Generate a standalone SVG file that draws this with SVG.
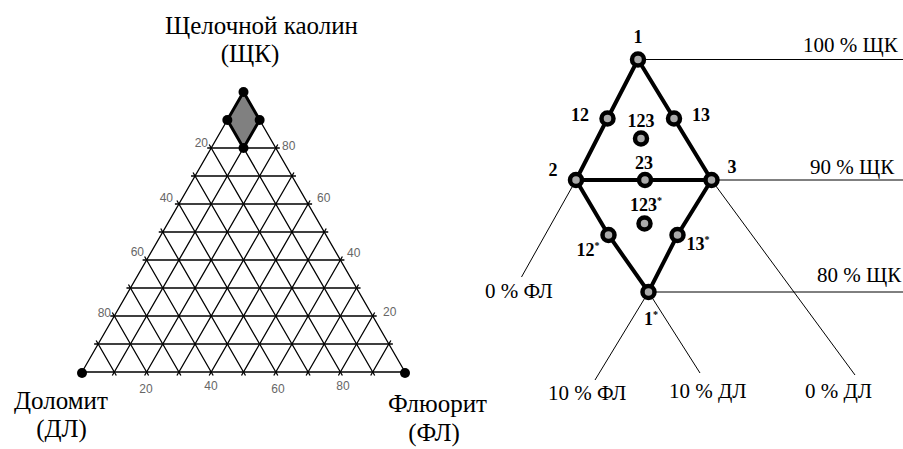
<svg xmlns="http://www.w3.org/2000/svg" width="903" height="449" viewBox="0 0 903 449">
<style>
.grid{stroke:#000;stroke-width:1.3;fill:none}
.title{font-family:"Liberation Serif",serif;font-size:25px;fill:#000}
.tick{font-family:"Liberation Sans",Arial,sans-serif;font-size:12px;fill:#666}
.thick{stroke:#000;stroke-width:4;fill:none;stroke-linecap:round}
.thin{stroke:#000;stroke-width:1;fill:none}
.node{fill:#aaa;stroke:#000;stroke-width:4.5}
.nl{font-family:"Liberation Serif",serif;font-size:18px;font-weight:bold;fill:#000}
.pl{font-family:"Liberation Serif",serif;font-size:21px;fill:#000}
.dot{fill:#000}
</style>
<rect width="903" height="449" fill="#fff"/>
<g id="ternary">
<g class="grid">
<polygon points="82,372 405,372 243.5,92"/>
<path d="M94.15,344H392.85M110.3,316H376.7M126.45,288H360.55M142.6,260H344.4M158.75,232H328.25M174.9,204H312.1M191.05,176H295.950M207.2,148H279.8M223.35,120H263.65"/>
<path d="M112.3,375.5L261.65,116.5M144.6,375.5L277.8,144.5M176.9,375.5L293.95,172.5M209.2,375.5L310.1,200.5M241.5,375.5L326.25,228.5M273.8,375.5L342.4,256.5M306.1,375.5L358.55,284.5M338.4,375.5L374.7,312.5M370.7,375.5L390.85,340.5"/>
<path d="M116.3,375.5L96.15,340.5M148.6,375.5L112.3,312.5M180.9,375.5L128.45,284.5M213.2,375.5L144.6,256.5M245.5,375.5L160.75,228.5M277.8,375.5L176.9,200.5M310.1,375.5L193.05,172.5M342.4,375.5L209.2,144.5M374.7,375.5L225.35,116.5"/>
</g>
<polygon points="243.5,92 227.35,120 243.5,148 259.65,120" fill="#808080" stroke="#000" stroke-width="3" stroke-linejoin="round"/>
<circle class="dot" cx="243.5" cy="92" r="5"/>
<circle class="dot" cx="227.35" cy="120" r="5"/>
<circle class="dot" cx="259.65" cy="120" r="5"/>
<circle class="dot" cx="243.5" cy="148" r="5"/>
<circle class="dot" cx="82" cy="373" r="5"/>
<circle class="dot" cx="405" cy="373" r="5"/>
<g class="tick">
<text x="208" y="147" text-anchor="end">20</text>
<text x="173" y="202" text-anchor="end">40</text>
<text x="144" y="256" text-anchor="end">60</text>
<text x="111" y="317" text-anchor="end">80</text>
<text x="282" y="150">80</text>
<text x="317" y="202">60</text>
<text x="347" y="257">40</text>
<text x="383" y="316">20</text>
<text x="146" y="393" text-anchor="middle">20</text>
<text x="211" y="390" text-anchor="middle">40</text>
<text x="278" y="393" text-anchor="middle">60</text>
<text x="343" y="390" text-anchor="middle">80</text>
</g>
<text class="title" x="261.5" y="34" text-anchor="middle">Щелочной каолин</text>
<text class="title" x="250" y="62" text-anchor="middle">(ЩК)</text>
<text class="title" x="61" y="409" text-anchor="middle">Доломит</text>
<text class="title" x="61.5" y="437" text-anchor="middle">(ДЛ)</text>
<text class="title" x="437.5" y="412" text-anchor="middle">Флюорит</text>
<text class="title" x="434" y="441" text-anchor="middle">(ФЛ)</text>
</g>
<g id="connectors">
<path class="thin" d="M638,59.5H903M711.5,180H903M648.5,292H903"/>
<path class="thin" d="M576,180L521.5,277M711.5,180L855,375M648.5,292L595,380M648.5,292L700,373"/>
<path class="thick" d="M638,59.5L607.5,118.5L576,180L711.5,180L674,118.5L638,59.5M576,180L608.5,235L648.5,292L677.5,235L711.5,180"/>
</g>
<g id="n1"><circle class="node" cx="638" cy="59.5" r="6"/><text class="nl" x="638" y="43" text-anchor="middle">1</text></g>
<g id="n12"><circle class="node" cx="607.5" cy="118.5" r="6"/><text class="nl" x="580" y="121" text-anchor="middle">12</text></g>
<g id="n13"><circle class="node" cx="674" cy="118.5" r="6"/><text class="nl" x="701" y="121" text-anchor="middle">13</text></g>
<g id="n123"><circle class="node" cx="641" cy="138.5" r="6"/><text class="nl" x="641" y="127" text-anchor="middle">123</text></g>
<g id="n2"><circle class="node" cx="576" cy="180" r="6"/><text class="nl" x="553" y="176" text-anchor="middle">2</text></g>
<g id="n23"><circle class="node" cx="645" cy="180" r="6"/><text class="nl" x="644" y="169" text-anchor="middle">23</text></g>
<g id="n3"><circle class="node" cx="711.5" cy="180" r="6"/><text class="nl" x="732" y="173" text-anchor="middle">3</text></g>
<g id="n123s"><circle class="node" cx="644.5" cy="223.5" r="6"/><text class="nl" x="646" y="211" text-anchor="middle">123<tspan font-size="10" dy="-7">*</tspan></text></g>
<g id="n12s"><circle class="node" cx="608.5" cy="235" r="6"/><text class="nl" x="588" y="256" text-anchor="middle">12<tspan font-size="10" dy="-7">*</tspan></text></g>
<g id="n13s"><circle class="node" cx="677.5" cy="235" r="6"/><text class="nl" x="698" y="250" text-anchor="middle">13<tspan font-size="10" dy="-7">*</tspan></text></g>
<g id="n1s"><circle class="node" cx="648.5" cy="292" r="6"/><text class="nl" x="651" y="325" text-anchor="middle">1<tspan font-size="10" dy="-7">*</tspan></text></g>
<g id="labels">
<text class="pl" x="803" y="52">100 % ЩК</text>
<text class="pl" x="810" y="174">90 % ЩК</text>
<text class="pl" x="817" y="282">80 % ЩК</text>
<text class="pl" x="485" y="298">0 % ФЛ</text>
<text class="pl" x="548" y="400">10 % ФЛ</text>
<text class="pl" x="669" y="398">10 % ДЛ</text>
<text class="pl" x="805" y="398">0 % ДЛ</text>
</g>
</svg>
